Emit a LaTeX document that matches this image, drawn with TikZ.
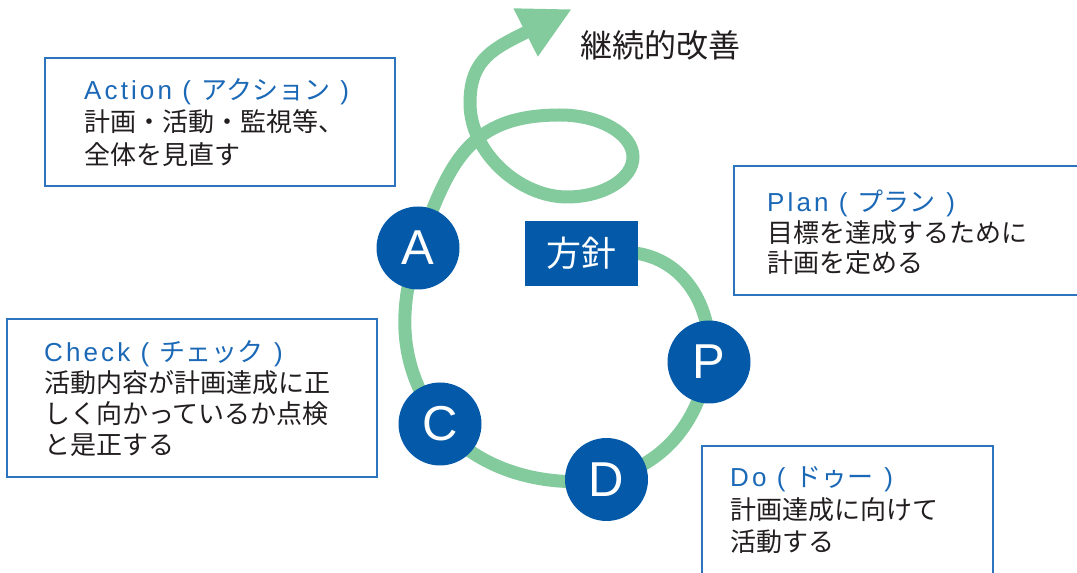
\documentclass[tikz,border=0pt]{standalone}
\usepackage{fontspec}
\setmainfont{Noto Sans CJK JP}
\newfontfamily\latsp[LetterSpace=12]{Liberation Sans}
\newfontfamily\latf{Liberation Sans}
\usetikzlibrary{arrows.meta}
\pgfdeclarelayer{bg}
\pgfsetlayers{bg,main}
\definecolor{cblue}{RGB}{4,90,168}
\definecolor{bblue}{RGB}{45,116,190}
\definecolor{hblue}{RGB}{26,104,182}
\definecolor{tgray}{RGB}{34,30,31}
\definecolor{fgreen}{RGB}{131,203,157}
\newcommand\hd[2]{{\color{hblue}{\latsp #1 ( }#2{\latsp\ )}}}
\tikzset{
  box/.style={draw=bblue, line width=2pt, rectangle, inner sep=0pt},
  txt/.style={inner sep=0pt, align=left, text=tgray, anchor=west},
  pdc/.style={circle, fill=cblue, minimum size=83pt, inner sep=0pt, text=white,
              font=\latf\fontsize{49}{49}\selectfont},
  flow/.style={draw=fgreen, line width=13pt},
}
\begin{document}
\begin{tikzpicture}[x=1pt,y=1pt]
\useasboundingbox (0,0) rectangle (1077,573);
\clip (0,0) rectangle (1077,573);

% boxes
\node[box, minimum width=350pt, minimum height=128pt] (abox) at (220,451) {};
\node[box, minimum width=370pt, minimum height=158pt] (cbox) at (192,175) {};
\node[box, minimum width=356pt, minimum height=129pt] (pbox) at (912,342.5) {};
\node[box, minimum width=291pt, minimum height=137pt] (dbox) at (847.5,58.5) {};

% box texts
\node[txt, font=\fontsize{26}{32.5}\selectfont] (atxt) at (84,450.5)
  {\hd{Action}{アクション}\\計画・活動・監視等、\\全体を見直す};
\node[txt, font=\fontsize{26}{31}\selectfont] (ctxt) at (44,174.5)
  {\hd{Check}{チェック}\\活動内容が計画達成に正\\しく向かっているか点検\\と是正する};
\node[txt, font=\fontsize{26}{30.5}\selectfont] (ptxt) at (767,340.5)
  {\hd{Plan}{プラン}\\目標を達成するために\\計画を定める};
\node[txt, font=\fontsize{26}{32.5}\selectfont] (dtxt) at (730,62.5)
  {\hd{Do}{ドゥー}\\計画達成に向けて\\活動する};

% title
\node[txt, font=\fontsize{32}{32}\selectfont] (kaizen) at (580,528) {継続的改善};

% policy box
\node[fill=cblue, minimum width=113pt, minimum height=65pt, inner sep=0pt,
      text=white, font=\fontsize{35}{35}\selectfont] (hoshin) at (581.5,319.5) {方針};

% PDCA circles
\node[pdc] (A) at (418,325) {A};
\node[pdc] (P) at (709,211) {P};
\node[pdc] (C) at (440,149) {C};
\node[pdc] (D) at (606.5,93.5) {D};

% loop coordinates
\coordinate (lt) at (560,458);
\coordinate (lr) at (633,416);
\coordinate (lb) at (567,376);
\coordinate (lu) at (470,470);
\coordinate (tip) at (572,564);

\begin{pgfonlayer}{bg}
\draw[flow, -{Triangle[length=52pt,width=50pt]}]
  ([xshift=-6pt]hoshin.east) -- (hoshin.east)
  to[out=-10,in=85] (P.center)
  to[out=-100,in=15] (D.center)
  to[out=188,in=-50,looseness=0.9] (C.center)
  to[out=126,in=-108] (A.center)
  to[out=70,in=180,looseness=1.2] (lt)
  .. controls +(40,0) and +(0,23) .. (lr)
  .. controls +(0,-22) and +(36,0) .. (lb)
  .. controls +(-47,0) and +(0,-50) .. (lu)
  .. controls +(0,45) and +(-77,-39) .. (tip);
\end{pgfonlayer}
\end{tikzpicture}
\end{document}
